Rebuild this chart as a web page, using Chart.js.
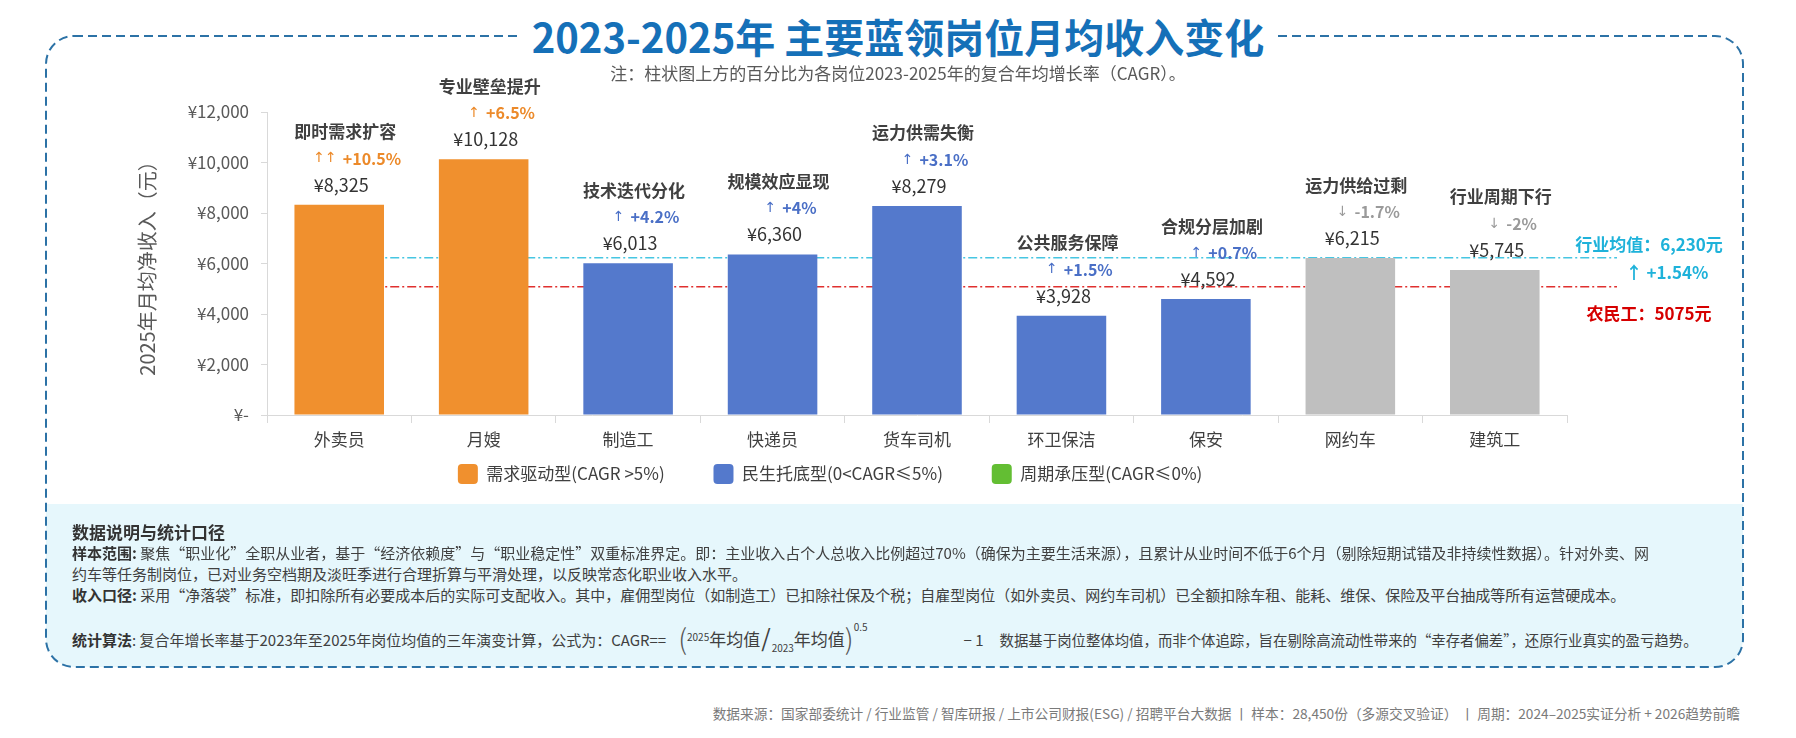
<!DOCTYPE html>
<html lang="zh-CN">
<head>
<meta charset="utf-8">
<title>2023-2025年 主要蓝领岗位月均收入变化</title>
<script src="https://cdn.jsdelivr.net/npm/chart.js@4.4.1/dist/chart.umd.min.js"></script>
<style>
  html, body { margin: 0; padding: 0; background: #fff; }
  body { width: 1796px; height: 738px; position: relative; overflow: hidden;
         font-family: 'Noto Sans CJK SC', 'Noto Sans', sans-serif; }
  #frame { position: absolute; left: 0; top: 0; }
  #chartBox { position: absolute; left: 0; top: 0; width: 1796px; height: 530px; }
  .title { position: absolute; left: 0; width: 1796px; top: 11px; text-align: center; }
  .title span { background: #fff; padding: 0 14px; font-size: 40px; font-weight: 700;
                color: #1570B8; line-height: 50px; }
  .subtitle { position: absolute; left: 0; width: 1796px; top: 60px; text-align: center;
              font-size: 17px; color: #595959; }
  .notes { position: absolute; left: 72px; font-size: 15px; color: #404040; white-space: nowrap; line-height: 20px; }
  .notes b { color: #333; }
  .heading { font-size: 17px; font-weight: 700; color: #333; }
  .paren { font-size: 28px; font-weight: 300; color: #555; vertical-align: -4px; }
  .fx { font-size: 17px; }
  .sm { font-size: 10px; }
  .up { vertical-align: 5px; }
  .dn { vertical-align: -6px; }
  .slash { font-size: 24px; vertical-align: -1px; margin: 0 1px; }
  .post { font-size: 14.4px; }
  .footer { position: absolute; right: 56px; top: 703px; font-size: 13.7px; color: #7a7a7a; white-space: nowrap; }
</style>
</head>
<body>
<svg id="frame" width="1796" height="738">
  <defs><clipPath id="clip"><rect x="46" y="36" width="1697" height="631" rx="28"/></clipPath></defs>
  <rect x="46" y="504" width="1697" height="163" fill="#E6F7FC" clip-path="url(#clip)"/>
  <rect x="46" y="36" width="1697" height="631" rx="28" fill="none" stroke="#2C72A6" stroke-width="2" stroke-dasharray="9 5"/>
</svg>
<div id="chartBox"><canvas id="chart"></canvas></div>
<div class="title"><span>2023-2025年 主要蓝领岗位月均收入变化</span></div>
<div class="subtitle">注：柱状图上方的百分比为各岗位2023-2025年的复合年均增长率（CAGR）。</div>

<div class="notes heading" style="top:522px">数据说明与统计口径</div>
<div class="notes" style="top:543px"><b>样本范围:</b> 聚焦“职业化”全职从业者，基于“经济依赖度”与“职业稳定性”双重标准界定。即：主业收入占个人总收入比例超过70%（确保为主要生活来源），且累计从业时间不低于6个月（剔除短期试错及非持续性数据）。针对外卖、网</div>
<div class="notes" style="top:564px">约车等任务制岗位，已对业务空档期及淡旺季进行合理折算与平滑处理，以反映常态化职业收入水平。</div>
<div class="notes" style="top:585px"><b>收入口径:</b> 采用“净落袋”标准，即扣除所有必要成本后的实际可支配收入。其中，雇佣型岗位（如制造工）已扣除社保及个税；自雇型岗位（如外卖员、网约车司机）已全额扣除车租、能耗、维保、保险及平台抽成等所有运营硬成本。</div>
<div class="notes" style="top:617px"><b>统计算法</b>: 复合年增长率基于2023年至2025年岗位均值的三年演变计算，公式为：CAGR==<span style="display:inline-block;width:12px"></span><span class="paren">(</span><span class="sm up">2025</span><span class="fx">年均值</span><span class="slash">/</span><span class="sm dn">2023</span><span class="fx">年均值</span><span class="paren">)</span><span class="sm" style="vertical-align:15px">0.5</span><span style="display:inline-block;width:96px"></span>− 1<span style="display:inline-block;width:16px"></span><span class="post">数据基于岗位整体均值，而非个体追踪，旨在剔除高流动性带来的“幸存者偏差”，还原行业真实的盈亏趋势。</span></div>

<div class="footer">数据来源：国家部委统计 / 行业监管 / 智库研报 / 上市公司财报(ESG) / 招聘平台大数据 丨 样本：28,450份（多源交叉验证） 丨 周期：2024–2025实证分析 + 2026趋势前瞻</div>

<script>
const jobs = ['外卖员', '月嫂', '制造工', '快递员', '货车司机', '环卫保洁', '保安', '网约车', '建筑工'];
const income2025 = [8325, 10128, 6013, 6360, 8279, 3928, 4592, 6215, 5745];
const cagr = [10.5, 6.5, 4.2, 4, 3.1, 1.5, 0.7, -1.7, -2];
const drivers = ['即时需求扩容', '专业壁垒提升', '技术迭代分化', '规模效应显现', '运力供需失衡',
                 '公共服务保障', '合规分层加剧', '运力供给过剩', '行业周期下行'];
const jobGroup = [0, 0, 1, 1, 1, 1, 1, 2, 2];
const groupNames = ['需求驱动型(CAGR >5%)', '民生托底型(0<CAGR≤5%)', '周期承压型(CAGR≤0%)'];
const barColors = ['#F0902E', '#5479CC', '#BFBFBF'];
const legendColors = ['#F0902E', '#5479CC', '#63BE33'];
const cagrColors = ['#EC8A2A', '#4A6FC6', '#9A9A9A'];
const industryAvg = 6230;
const industryCagr = 1.54;
const migrantWorker = 5075;

const FONT = "'Noto Sans CJK SC', 'Noto Sans', sans-serif";
Chart.defaults.font.family = FONT;

const yen = v => '¥' + v.toLocaleString('en-US');

// reference lines behind the bars, labels on the right
const refLines = {
  id: 'refLines',
  beforeDatasetsDraw(chart) {
    const { ctx, chartArea, scales } = chart;
    const x0 = scales.x.getPixelForValue(0);
    const line = (value, color) => {
      const y = scales.y.getPixelForValue(value);
      ctx.save();
      ctx.strokeStyle = color;
      ctx.lineWidth = 1.5;
      ctx.setLineDash([9, 3, 2, 3]);
      ctx.beginPath();
      ctx.moveTo(x0, y);
      ctx.lineTo(chartArea.right + 50, y);
      ctx.stroke();
      ctx.restore();
    };
    line(industryAvg, '#46C6E2');
    line(migrantWorker, '#E0302F');
  },
  afterDraw(chart) {
    const { ctx, chartArea, scales } = chart;
    const x = chartArea.right + 82;
    const yAvg = scales.y.getPixelForValue(industryAvg);
    const yMig = scales.y.getPixelForValue(migrantWorker);
    ctx.save();
    ctx.textAlign = 'center';
    ctx.textBaseline = 'middle';
    ctx.font = 'bold 17px ' + FONT;
    ctx.fillStyle = '#1EB2DA';
    ctx.fillText('行业均值：' + industryAvg.toLocaleString('en-US') + '元', x, yAvg - 13);
    ctx.fillText('↑ +' + industryCagr + '%', x + 18, yAvg + 15);
    ctx.fillStyle = '#D60000';
    ctx.fillText('农民工：' + migrantWorker + '元', x, yMig + 27);
    ctx.restore();
  }
};

// driver title, CAGR and value above each bar
const barNotes = {
  id: 'barNotes',
  afterDatasetsDraw(chart) {
    const { ctx } = chart;
    const bars = chart.getDatasetMeta(0).data;
    ctx.save();
    ctx.textBaseline = 'middle';
    bars.forEach((bar, i) => {
      const x = bar.x, top = bar.y;
      const g = jobGroup[i];

      ctx.textAlign = 'center';
      ctx.font = 'bold 17px ' + FONT;
      ctx.fillStyle = '#404040';
      ctx.fillText(drivers[i], x + 6, top - 73);

      const arrow = cagr[i] >= 10 ? '↑↑' : (cagr[i] > 0 ? '↑' : '↓');
      const pct = (cagr[i] > 0 ? '+' : '') + cagr[i] + '%';
      ctx.font = 'bold 16px ' + FONT;
      const pw = ctx.measureText(pct).width;
      ctx.font = "14px 'DejaVu Sans'";
      const aw = ctx.measureText(arrow).width;
      const sx = x + 18 - (aw + 6 + pw) / 2;
      ctx.textAlign = 'left';
      ctx.fillStyle = cagrColors[g];
      ctx.fillText(arrow, sx, top - 46);
      ctx.font = 'bold 16px ' + FONT;
      ctx.fillText(pct, sx + aw + 6, top - 46);

      ctx.textAlign = 'center';
      ctx.font = '18px ' + FONT;
      ctx.fillStyle = '#333';
      ctx.fillText(yen(income2025[i]), x + 2, top - 20);
    });
    ctx.restore();
  }
};

new Chart(document.getElementById('chart'), {
  type: 'bar',
  data: {
    labels: jobs,
    datasets: [{
      label: '2025年月均净收入',
      data: income2025,
      backgroundColor: jobGroup.map(g => barColors[g]),
      categoryPercentage: 1,
      barPercentage: 0.62
    }]
  },
  options: {
    responsive: true,
    maintainAspectRatio: false,
    animation: false,
    layout: { padding: { left: 131, right: 229, top: 112, bottom: 36 } },
    plugins: {
      tooltip: { enabled: false },
      legend: {
        position: 'bottom',
        onClick: null,
        labels: {
          boxWidth: 20,
          boxHeight: 20,
          padding: 11,
          useBorderRadius: true,
          color: '#404040',
          font: { size: 17 },
          // trailing ideographic spaces keep the wide gap between items
          generateLabels: () => groupNames.map((name, i) => ({
            text: name + '\u3000\u3000 ',
            fillStyle: legendColors[i],
            strokeStyle: legendColors[i],
            lineWidth: 0,
            borderRadius: 4,
            fontColor: '#404040',
            hidden: false,
            index: i
          }))
        }
      }
    },
    scales: {
      x: {
        afterFit: scale => { scale.height = 38; },
        border: { color: '#D9D9D9' },
        grid: { offset: true, drawOnChartArea: false, tickLength: 8, color: '#D9D9D9' },
        ticks: { color: '#404040', font: { size: 17 }, padding: 6 }
      },
      y: {
        min: 0,
        max: 12000,
        afterFit: scale => { scale.width = 136; },
        border: { color: '#D9D9D9' },
        grid: { drawOnChartArea: false, tickLength: 6, color: '#D9D9D9' },
        ticks: {
          stepSize: 2000,
          padding: 12,
          color: '#595959',
          font: { size: 17 },
          callback: v => v === 0 ? '¥-' : yen(v)
        },
        title: {
          display: true,
          text: '2025年月均净收入（元）',
          color: '#595959',
          font: { size: 20 }
        }
      }
    }
  },
  plugins: [refLines, barNotes]
});
</script>
</body>
</html>
